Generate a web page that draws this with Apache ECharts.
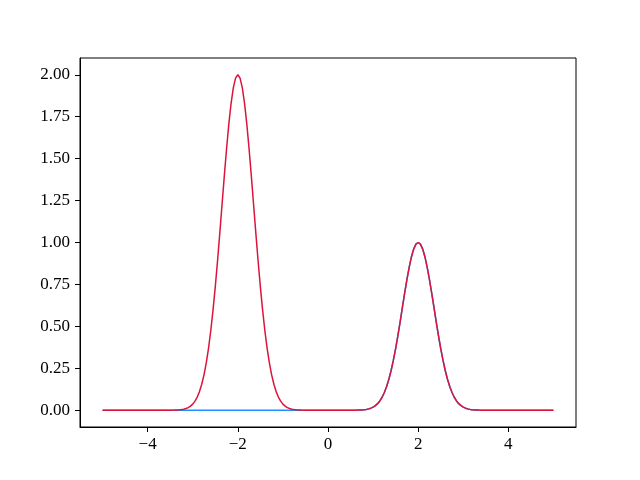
<!DOCTYPE html>
<html>
<head>
<meta charset="utf-8">
<script src="https://cdn.jsdelivr.net/npm/echarts@6/dist/echarts.min.js"></script>
<style>html,body{margin:0;padding:0;background:#fff}#c{width:640px;height:480px}</style>
</head>
<body>
<div id="c"></div>
<script>
// x sample positions
const xs = [-5,-4.5,-4,-3.5,
-3.4,-3.35,-3.3,-3.25,-3.2,-3.15,-3.1,-3.05,-3,-2.95,-2.9,-2.85,-2.8,-2.75,-2.7,-2.65,-2.6,-2.55,-2.5,-2.45,-2.4,-2.35,-2.3,-2.25,-2.2,-2.15,-2.1,-2.05,-2,-1.95,-1.9,-1.85,-1.8,-1.75,-1.7,-1.65,-1.6,-1.55,-1.5,-1.45,-1.4,-1.35,-1.3,-1.25,-1.2,-1.15,-1.1,-1.05,-1,-0.95,-0.9,-0.85,-0.8,-0.75,-0.7,-0.65,-0.6,
-0.5,0,0.5,
0.6,0.65,0.7,0.75,0.8,0.85,0.9,0.95,1,1.05,1.1,1.15,1.2,1.25,1.3,1.35,1.4,1.45,1.5,1.55,1.6,1.65,1.7,1.75,1.8,1.85,1.9,1.95,2,2.05,2.1,2.15,2.2,2.25,2.3,2.35,2.4,2.45,2.5,2.55,2.6,2.65,2.7,2.75,2.8,2.85,2.9,2.95,3,3.05,3.1,3.15,3.2,3.25,3.3,3.35,3.4,
3.5,4,4.5,5];

// blue series: single peak at x=2
const blueY = [0,0,0,0,
0,0,0,0,0,0,0,0,0,0,0,0,0,0,0,0,0,0,0,0,0,0,0,0,0,0,0,0,0,0,0,0,0,0,0,0,0,0,0,0,0,0,0,0,0,0,0,0,0,0,0,0,0,0,0,0,0,
0,0,0.0001,
0.0004,0.0007,0.0012,0.0019,0.0032,0.0050,0.0079,0.0122,0.0183,0.0271,0.0392,0.0556,0.0773,0.1054,0.1409,0.1845,0.2369,0.2982,0.3679,0.4449,0.5273,0.6126,0.6977,0.7788,0.8521,0.9139,0.9608,0.9900,1,0.9900,0.9608,0.9139,0.8521,0.7788,0.6977,0.6126,0.5273,0.4449,0.3679,0.2982,0.2369,0.1845,0.1409,0.1054,0.0773,0.0556,0.0392,0.0271,0.0183,0.0122,0.0079,0.0050,0.0032,0.0019,0.0012,0.0007,0.0004,
0.0001,0,0,0];

// red series: both peaks
const redY = [0,0,0,0.0002,
0.0008,0.0014,0.0023,0.0039,0.0063,0.0101,0.0158,0.0243,0.0366,0.0541,0.0784,0.1111,0.1546,0.2108,0.2818,0.3690,0.4738,0.5964,0.7358,0.8898,1.0546,1.2252,1.3954,1.5576,1.7043,1.8278,1.9216,1.9801,2,1.9801,1.9216,1.8278,1.7043,1.5576,1.3954,1.2252,1.0546,0.8898,0.7358,0.5964,0.4738,0.3690,0.2818,0.2108,0.1546,0.1111,0.0784,0.0541,0.0366,0.0243,0.0158,0.0101,0.0063,0.0039,0.0023,0.0014,0.0008,
0.0002,0,0.0001,
0.0004,0.0007,0.0012,0.0019,0.0032,0.0050,0.0079,0.0122,0.0183,0.0271,0.0392,0.0556,0.0773,0.1054,0.1409,0.1845,0.2369,0.2982,0.3679,0.4449,0.5273,0.6126,0.6977,0.7788,0.8521,0.9139,0.9608,0.9900,1,0.9900,0.9608,0.9139,0.8521,0.7788,0.6977,0.6126,0.5273,0.4449,0.3679,0.2982,0.2369,0.1845,0.1409,0.1054,0.0773,0.0556,0.0392,0.0271,0.0183,0.0122,0.0079,0.0050,0.0032,0.0019,0.0012,0.0007,0.0004,
0.0001,0,0,0];

const xTicks = [-4,-2,0,2,4];
const yTicks = [0,0.25,0.5,0.75,1,1.25,1.5,1.75,2];

const font = '"Liberation Serif", "DejaVu Serif", serif';
const chart = echarts.init(document.getElementById('c'), null, {renderer:'canvas'});
chart.setOption({
  animation: false,
  backgroundColor: '#fff',
  grid: {left: 80, right: 64, top: 58, bottom: 53, show: true, borderColor: '#000', borderWidth: 1, backgroundColor: 'transparent'},
  xAxis: {
    type: 'value', min: -5.5, max: 5.5,
    axisLine: {show: true, onZero: false, lineStyle: {color: '#000', width: 1}},
    axisTick: {show: true, customValues: xTicks, length: 5, lineStyle: {color: '#000'}},
    axisLabel: {customValues: xTicks, margin: 9, color: '#000', fontFamily: font, fontSize: 17,
      formatter: v => String(v).replace('-', '\u2212')},
    splitLine: {show: false}
  },
  yAxis: {
    type: 'value', min: -0.1, max: 2.1,
    axisLine: {show: true, onZero: false, lineStyle: {color: '#000', width: 1}},
    axisTick: {show: true, customValues: yTicks, length: 5, lineStyle: {color: '#000'}},
    axisLabel: {customValues: yTicks, margin: 10, color: '#000', fontFamily: font, fontSize: 17,
      formatter: v => Number(v).toFixed(2)},
    splitLine: {show: false}
  },
  series: [
    {type: 'line', data: xs.map((x, i) => [x, blueY[i]]), showSymbol: false,
     lineStyle: {color: '#1e90ff', width: 1.5}, itemStyle: {color: '#1e90ff'}},
    {type: 'line', data: xs.map((x, i) => [x, redY[i]]), showSymbol: false,
     lineStyle: {color: '#dc143c', width: 1.5}, itemStyle: {color: '#dc143c'}}
  ]
});
</script>
</body>
</html>
